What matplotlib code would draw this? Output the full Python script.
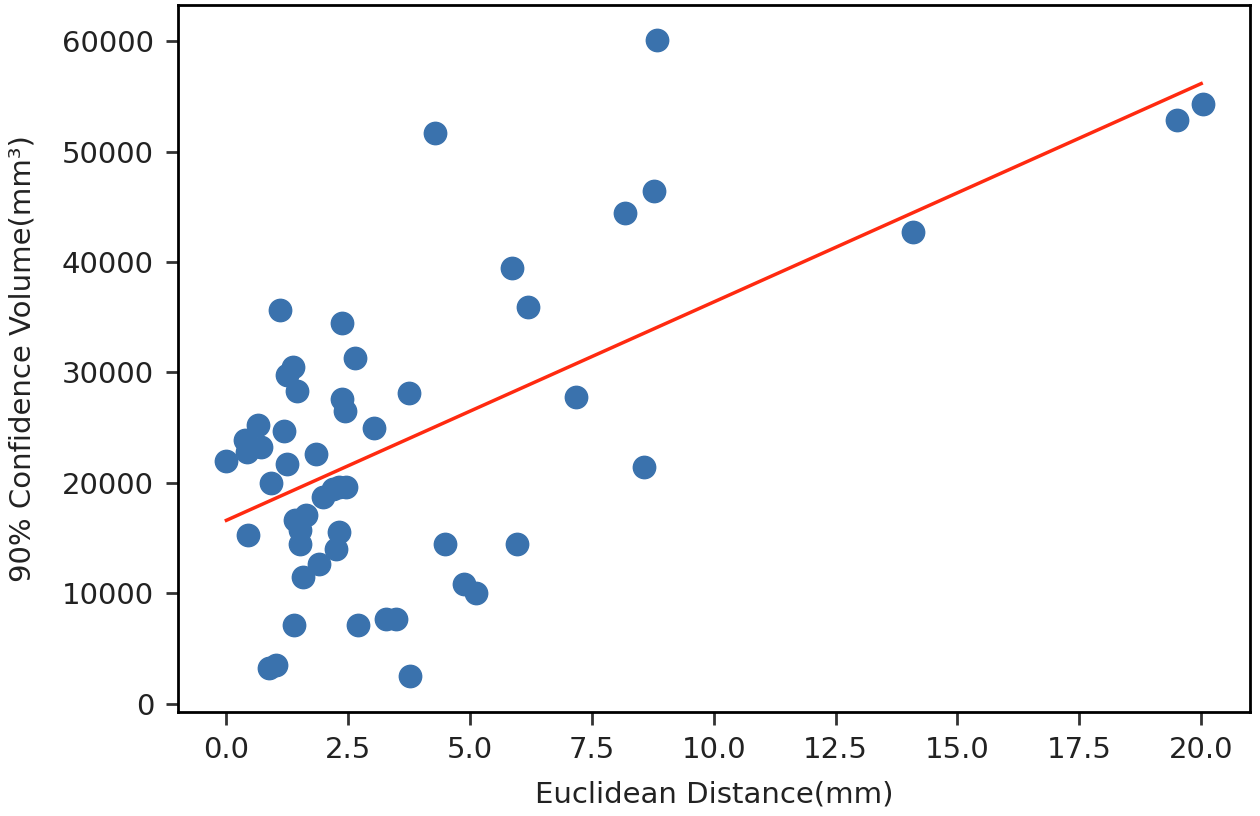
import matplotlib
matplotlib.use('Agg')
import matplotlib.pyplot as plt
import numpy as np

# Euclidean distance (mm) and 90% confidence volume (mm^3)
distance = [0.00, 0.45, 0.39, 0.43, 0.72, 0.65, 1.18, 0.92, 1.11, 2.38,
            2.63, 1.36, 1.24, 1.45, 2.38, 2.44, 3.75, 3.02, 1.25, 1.84,
            2.18, 2.46, 2.32, 1.98, 1.40, 1.64, 1.50, 1.50, 2.31, 2.24,
            1.91, 1.58, 4.48, 5.97, 4.87, 5.13, 1.38, 2.70, 3.28, 3.48,
            0.88, 1.02, 3.76, 6.19, 7.18, 8.56, 4.29, 5.87, 8.17, 8.77,
            8.83, 14.09, 19.51, 20.04]
volume = [22000, 15250, 23870, 22780, 23230, 25250, 24650, 19950, 35660, 34510,
          31310, 30460, 29760, 28340, 27590, 26530, 28100, 24930, 21690, 22570,
          19480, 19630, 19630, 18720, 16610, 17060, 15700, 14490, 15540, 14040,
          12680, 11460, 14430, 14430, 10860, 10010, 7140, 7140, 7690, 7690,
          3200, 3500, 2450, 35960, 27800, 21440, 51720, 39470, 44460, 46460,
          60160, 42740, 52900, 54360]

# fitted line end points as seen in the chart
fit_x = [0.0, 20.0]
fit_y = [16600, 56170]

plt.rcParams['font.family'] = 'DejaVu Sans'
plt.rcParams['font.size'] = 21

fig = plt.figure(figsize=(12.6, 8.16), dpi=100)
ax = fig.add_axes([0.141, 0.127, 0.851, 0.867])

ax.scatter(distance, volume, s=260, color='#3a72ad', zorder=2)
ax.plot(fit_x, fit_y, color='#ff2a10', linewidth=2.5, zorder=3)

ax.set_xlim(-1.0, 21.0)
ax.set_ylim(-800, 63300)
ax.set_xticks(np.arange(0, 20.1, 2.5))
ax.set_yticks(np.arange(0, 60001, 10000))

for sp in ax.spines.values():
    sp.set_linewidth(2)
ax.tick_params(width=2, length=9, pad=8, color='#333333', labelcolor='#222222')

ax.set_xlabel('Euclidean Distance(mm)', color='#222222', labelpad=12)
ax.set_ylabel('90% Confidence Volume(mm³)', color='#222222', labelpad=18)

fig.savefig('out.png', dpi=100)
